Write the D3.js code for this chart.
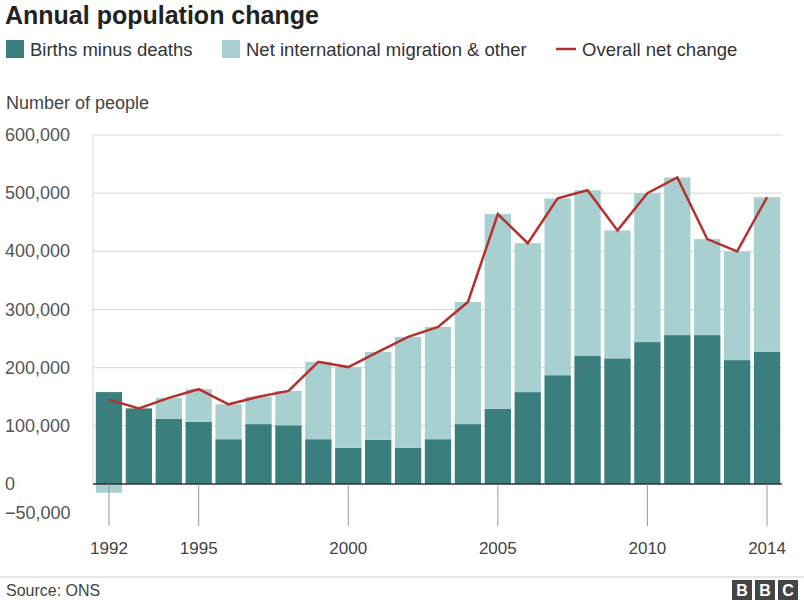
<!DOCTYPE html><html><head><meta charset="utf-8">
<script src="https://cdn.jsdelivr.net/npm/d3@7"></script>
<style>body{margin:0;background:#fff;font-family:"Liberation Sans",Arial,sans-serif}</style></head>
<body><svg id="c" width="804" height="600"></svg>
<script>
const years=[1992,1993,1994,1995,1996,1997,1998,1999,2000,2001,2002,2003,2004,2005,2006,2007,2008,2009,2010,2011,2012,2013,2014];
const births=[158000,130000,112000,107000,77000,103000,101000,77000,62000,76000,62000,77000,103000,129000,158000,187000,220000,216000,244000,256000,256000,213000,227000];
const migration=[-15000,0,36000,56000,60000,47000,59000,133000,139000,151000,191000,193000,210000,335000,256000,304000,285000,220000,256000,271000,165000,187000,266000];
const overall=[145000,130000,148000,163000,137000,150000,160000,210000,201000,227000,253000,270000,313000,464000,414000,491000,505000,436000,500000,527000,421000,400000,493000];
const yTicks=[-50000,0,100000,200000,300000,400000,500000,600000];
const xTickYears=[1992,1995,2000,2005,2010,2014];

const svg=d3.select("#c");
const x=d3.scaleBand().domain(years).range([94,782]).paddingInner(0.12).paddingOuter(0.06);
const y=d3.scaleLinear().domain([0,600000]).range([484,135]);
const dark="#3b7e7e",light="#a9d0d1",red="#b5312f";

svg.append("text").attr("x",5).attr("y",24).attr("font-size",25).attr("font-weight","bold").attr("fill","#222").text("Annual population change");
const lg=svg.append("g").attr("font-size",18.5).attr("fill","#333");
lg.append("rect").attr("x",6).attr("y",40).attr("width",18).attr("height",18).attr("fill",dark);
lg.append("text").attr("x",30).attr("y",56).text("Births minus deaths");
lg.append("rect").attr("x",222).attr("y",40).attr("width",18).attr("height",18).attr("fill",light);
lg.append("text").attr("x",246).attr("y",56).text("Net international migration & other");
lg.append("line").attr("x1",556).attr("x2",576).attr("y1",49).attr("y2",49).attr("stroke",red).attr("stroke-width",2.5);
lg.append("text").attr("x",582).attr("y",56).text("Overall net change");
svg.append("text").attr("x",6).attr("y",109).attr("font-size",18).attr("fill","#444").text("Number of people");

const ya=svg.append("g").attr("font-size",18).attr("fill","#555");
yTicks.forEach(t=>{
  if(t>0) svg.append("line").attr("x1",93).attr("x2",782).attr("y1",y(t)).attr("y2",y(t)).attr("stroke","#d6d6d6");
  ya.append("text").attr("x",5).attr("y",y(t)+6).text(d3.format(",")(t));
});
svg.append("line").attr("x1",93).attr("x2",93).attr("y1",135).attr("y2",484).attr("stroke","#d6d6d6");

const g=svg.append("g");
years.forEach((yr,i)=>{
  const b=births[i],m=migration[i];
  g.append("rect").attr("x",x(yr)).attr("width",x.bandwidth()).attr("y",y(b)).attr("height",y(0)-y(b)).attr("fill",dark);
  if(m>0) g.append("rect").attr("x",x(yr)).attr("width",x.bandwidth()).attr("y",y(b+m)).attr("height",y(b)-y(b+m)).attr("fill",light);
  else if(m<0) g.append("rect").attr("x",x(yr)).attr("width",x.bandwidth()).attr("y",y(0)).attr("height",y(m)-y(0)).attr("fill",light);
});
svg.append("line").attr("x1",93).attr("x2",782).attr("y1",y(0)).attr("y2",y(0)).attr("stroke","#333").attr("stroke-width",1.5);
svg.append("path").datum(years.map((yr,i)=>[x(yr)+x.bandwidth()/2,y(overall[i])]))
  .attr("d",d3.line()).attr("fill","none").attr("stroke",red).attr("stroke-width",2.5);

const xa=svg.append("g").attr("font-size",17).attr("fill","#444");
xTickYears.forEach(yr=>{
  const cx=x(yr)+x.bandwidth()/2;
  svg.append("line").attr("x1",cx).attr("x2",cx).attr("y1",y(0)).attr("y2",y(0)+42).attr("stroke","#999");
  xa.append("text").attr("x",cx).attr("y",554).attr("text-anchor","middle").text(yr);
});
svg.append("line").attr("x1",0).attr("x2",804).attr("y1",577).attr("y2",577).attr("stroke","#ccc");
svg.append("text").attr("x",6).attr("y",596).attr("font-size",16).attr("fill","#444").text("Source: ONS");
["B","B","C"].forEach((c,i)=>{
  svg.append("rect").attr("x",732+i*23).attr("y",580).attr("width",20).attr("height",20).attr("fill","#444");
  svg.append("text").attr("x",742+i*23).attr("y",596).attr("text-anchor","middle").attr("font-size",16).attr("font-weight","bold").attr("fill","#fff").text(c);
});
</script></body></html>
